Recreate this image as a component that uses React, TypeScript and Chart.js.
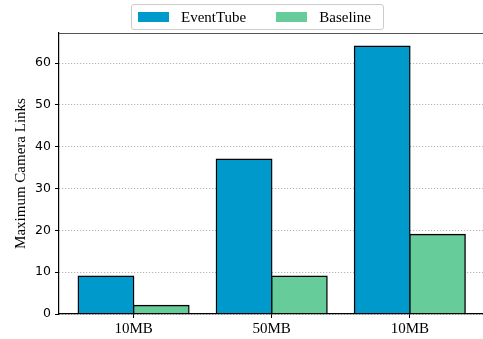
import React, { useEffect, useRef } from "react";
import { Chart, registerables } from "chart.js";

Chart.register(...registerables);

const categories = ["10MB", "50MB", "10MB"];
const eventTube = [9, 37, 64];
const baseline = [2, 9, 19];
const yTicks = [0, 10, 20, 30, 40, 50, 60];
const xTicks = [0, 1, 2];

const SERIF = "'Liberation Serif', 'DejaVu Serif', serif";
const SANS = "'DejaVu Sans', sans-serif";

const topSpine = {
  id: "topSpine",
  afterDraw(chart: any) {
    const { ctx, chartArea } = chart;
    ctx.save();
    ctx.strokeStyle = "#555";
    ctx.lineWidth = 1.2;
    ctx.beginPath();
    ctx.moveTo(chartArea.left, chartArea.top + 0.5);
    ctx.lineTo(chartArea.right, chartArea.top + 0.5);
    ctx.stroke();
    ctx.restore();
  },
};

export default function App() {
  const ref = useRef<HTMLCanvasElement>(null);

  useEffect(() => {
    document.body.style.margin = "0";
    const barStyle = {
      borderColor: "#000",
      borderWidth: 1.4,
      borderSkipped: false,
      inflateAmount: 0.8,
    };
    const chart = new Chart(ref.current!, {
      type: "bar",
      data: {
        datasets: [
          {
            label: "EventTube",
            data: eventTube.map((y, i) => ({ x: i, y })),
            backgroundColor: "#0099CC",
            ...barStyle,
          },
          {
            label: "Baseline",
            data: baseline.map((y, i) => ({ x: i, y })),
            backgroundColor: "#66CC99",
            ...barStyle,
          },
        ],
      },
      options: {
        animation: false,
        responsive: false,
        maintainAspectRatio: false,
        layout: { padding: { top: 33, right: 0, left: 0, bottom: 0 } },
        datasets: { bar: { categoryPercentage: 0.8, barPercentage: 1.0 } },
        plugins: { legend: { display: false }, tooltip: { enabled: false } },
        scales: {
          x: {
            type: "linear",
            min: -0.54,
            max: 2.53,
            offset: false,
            afterBuildTicks(scale: any) {
              scale.ticks = xTicks.map((value) => ({ value }));
            },
            afterFit(scale: any) {
              scale.height = 25;
            },
            ticks: {
              autoSkip: false,
              maxRotation: 0,
              color: "#000",
              padding: 2,
              font: { family: SERIF, size: 15 },
              callback: (v: any) =>
                Number.isInteger(v) && categories[v] !== undefined ? categories[v] : "",
            },
            grid: {
              offset: false,
              drawOnChartArea: false,
              drawTicks: true,
              tickLength: 4,
              tickColor: "#000",
              tickWidth: 1,
            },
            border: { color: "#000", width: 1.2 },
          },
          y: {
            min: 0,
            max: 67.2,
            afterBuildTicks(scale: any) {
              scale.ticks = yTicks.map((value) => ({ value }));
            },
            afterFit(scale: any) {
              scale.width = 59;
            },
            ticks: {
              color: "#000",
              padding: 4,
              font: { family: SANS, size: 12.5 },
            },
            grid: {
              color: "#9a9a9a",
              lineWidth: 0.9,
              drawTicks: true,
              tickLength: 4,
              tickColor: "#000",
              tickWidth: 1,
              tickBorderDash: [],
            } as any,
            border: { color: "#000", width: 1.2, dash: [1, 2] },
            title: {
              display: true,
              text: "Maximum Camera Links",
              color: "#000",
              padding: { top: 12, bottom: 0 },
              font: { family: SERIF, size: 15 },
            },
          },
        },
      },
      plugins: [topSpine],
    } as any);
    return () => chart.destroy();
  }, []);

  const swatch = (color: string) => (
    <span
      style={{
        display: "inline-block",
        width: 31,
        height: 10,
        background: color,
        marginRight: 12,
      }}
    />
  );

  return (
    <div style={{ position: "relative", width: 483, height: 339 }}>
      <canvas ref={ref} width={483} height={339} style={{ display: "block" }} />
      <div
        style={{
          position: "absolute",
          left: 131,
          top: 4,
          width: 245,
          height: 24,
          border: "1px solid #cccccc",
          borderRadius: 3,
          background: "rgba(255,255,255,0.85)",
          display: "flex",
          alignItems: "center",
          paddingLeft: 6,
          boxSizing: "content-box",
          fontFamily: SERIF,
          fontSize: 15,
          color: "#000",
          lineHeight: 1,
        }}
      >
        {swatch("#0099CC")}
        <span style={{ marginRight: 30 }}>EventTube</span>
        {swatch("#66CC99")}
        <span>Baseline</span>
      </div>
    </div>
  );
}
